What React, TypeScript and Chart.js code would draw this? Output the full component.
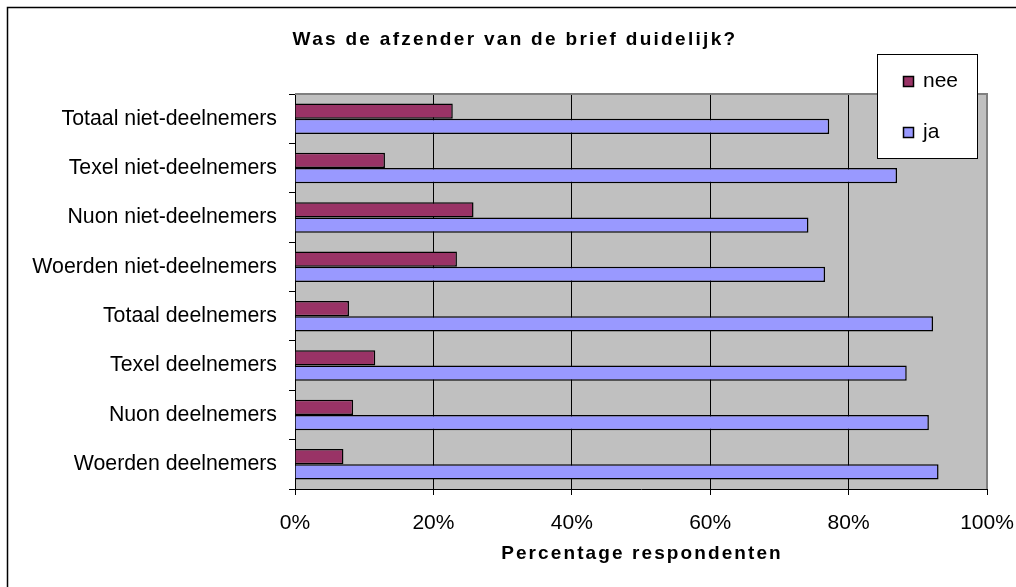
import React, { useEffect, useRef } from 'react';
import { Chart, registerables } from 'chart.js';

Chart.register(...registerables);

const categories = [
  'Totaal niet-deelnemers',
  'Texel niet-deelnemers',
  'Nuon niet-deelnemers',
  'Woerden niet-deelnemers',
  'Totaal deelnemers',
  'Texel deelnemers',
  'Nuon deelnemers',
  'Woerden deelnemers',
];
const neeValues = [22.8, 13.0, 25.8, 23.4, 7.8, 11.6, 8.4, 7.0];
const jaValues = [77.2, 87.0, 74.2, 76.6, 92.2, 88.4, 91.6, 93.0];
const seriesLabels = ['nee', 'ja'];
const seriesColors = ['#993366', '#9999FF'];
const xTickValues = [0, 20, 40, 60, 80, 100];
const chartTitle = 'Was de afzender van de brief duidelijk?';
const xAxisTitle = 'Percentage respondenten';

const FONT = "'Liberation Sans', Arial, sans-serif";

const decorPlugin = {
  id: 'decor',
  beforeDraw(chart: any) {
    const { ctx, chartArea, width, height } = chart;
    ctx.save();
    ctx.fillStyle = '#FFFFFF';
    ctx.fillRect(0, 0, width, height);
    ctx.strokeStyle = '#000000';
    ctx.lineWidth = 1.5;
    ctx.beginPath();
    ctx.moveTo(7.5, height);
    ctx.lineTo(7.5, 7.5);
    ctx.lineTo(width, 7.5);
    ctx.stroke();
    ctx.fillStyle = '#C0C0C0';
    ctx.fillRect(chartArea.left, chartArea.top, chartArea.right - chartArea.left, chartArea.bottom - chartArea.top);
    ctx.restore();
  },
  beforeDatasetsDraw(chart: any) {
    const { ctx, chartArea } = chart;
    ctx.save();
    ctx.strokeStyle = '#808080';
    ctx.lineWidth = 2;
    ctx.beginPath();
    ctx.moveTo(chartArea.left, chartArea.top);
    ctx.lineTo(chartArea.right, chartArea.top);
    ctx.lineTo(chartArea.right, chartArea.bottom);
    ctx.stroke();
    ctx.restore();
  },
  afterDraw(chart: any) {
    const { ctx, chartArea } = chart;
    ctx.save();
    ctx.fillStyle = '#000000';
    ctx.font = `bold 19px ${FONT}`;
    ctx.textAlign = 'center';
    ctx.textBaseline = 'alphabetic';
    (ctx as any).letterSpacing = '2.3px';
    ctx.fillText(chartTitle, 515, 45);
    (ctx as any).letterSpacing = '2.1px';
    ctx.fillText(xAxisTitle, (chartArea.left + chartArea.right) / 2 + 1, 559);
    (ctx as any).letterSpacing = '0px';

    const lx = 877.5, ly = 54.5, lw = 100, lh = 104;
    ctx.fillStyle = '#FFFFFF';
    ctx.fillRect(lx, ly, lw, lh);
    ctx.strokeStyle = '#000000';
    ctx.lineWidth = 1;
    ctx.strokeRect(lx, ly, lw, lh);
    ctx.font = `21px ${FONT}`;
    ctx.textAlign = 'left';
    chart.data.datasets.forEach((ds: any, i: number) => {
      const y = 76 + i * 51;
      ctx.fillStyle = ds.backgroundColor;
      ctx.fillRect(903.5, y + 0.5, 10, 10);
      ctx.strokeStyle = '#000000';
      ctx.lineWidth = 1.5;
      ctx.strokeRect(903.5, y + 0.5, 10, 10);
      ctx.fillStyle = '#000000';
      ctx.fillText(ds.label, 923, y + 11);
    });
    ctx.restore();
  },
};

export default function App() {
  const canvasRef = useRef<HTMLCanvasElement>(null);

  useEffect(() => {
    if (!canvasRef.current) return;
    const chart = new Chart(canvasRef.current, {
      type: 'bar',
      data: {
        labels: categories,
        datasets: [
          {
            label: seriesLabels[0],
            data: neeValues,
            backgroundColor: seriesColors[0],
            borderColor: '#000000',
            borderWidth: 1.5,
            categoryPercentage: 0.62,
            barPercentage: 1.0,
          },
          {
            label: seriesLabels[1],
            data: jaValues,
            backgroundColor: seriesColors[1],
            borderColor: '#000000',
            borderWidth: 1.5,
            categoryPercentage: 0.62,
            barPercentage: 1.0,
          },
        ],
      },
      options: {
        indexAxis: 'y',
        responsive: false,
        animation: false,
        layout: { padding: { left: 0, top: 94, right: 29, bottom: 0 } },
        plugins: {
          legend: { display: false },
          title: { display: false },
          tooltip: { enabled: false },
        },
        scales: {
          x: {
            type: 'linear',
            min: 0,
            max: 100,
            afterBuildTicks: (scale: any) => {
              scale.ticks = xTickValues.map((v) => ({ value: v }));
            },
            afterFit: (scale: any) => {
              scale.height = 98;
              scale.paddingLeft = 0;
              scale.paddingRight = 0;
            },
            ticks: {
              callback: (v: any) => `${v}%`,
              color: '#000000',
              font: { family: FONT, size: 21 },
              padding: 16,
              maxRotation: 0,
            },
            grid: {
              color: (c: any) => (c.tick && c.tick.value === 100 ? '#808080' : '#000000'),
              tickColor: '#000000',
              lineWidth: 1,
              drawOnChartArea: true,
              drawTicks: true,
              tickLength: 6,
            },
            border: { display: true, color: '#000000', width: 1 },
          },
          y: {
            type: 'category',
            afterFit: (scale: any) => {
              scale.width = 295;
              scale.paddingTop = 0;
              scale.paddingBottom = 0;
            },
            ticks: {
              color: '#000000',
              font: { family: FONT, size: 21.3 },
              padding: 12,
            },
            grid: {
              offset: true,
              drawOnChartArea: false,
              drawTicks: true,
              tickLength: 6,
              tickColor: '#000000',
            },
            border: { display: true, color: '#000000', width: 1 },
          },
        },
      },
      plugins: [decorPlugin],
    } as any);
    return () => chart.destroy();
  }, []);

  return (
    <div style={{ position: 'fixed', left: 0, top: 0, width: 1016, height: 587, background: '#fff' }}>
      <canvas ref={canvasRef} width={1016} height={587} style={{ display: 'block' }} />
    </div>
  );
}
